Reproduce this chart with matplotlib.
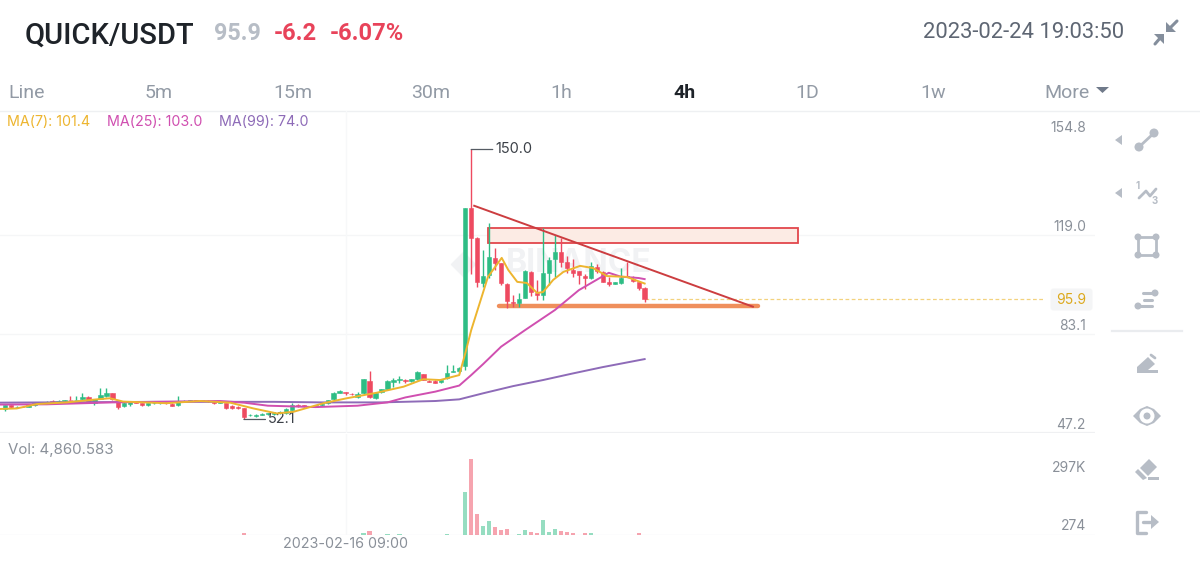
"""plot.py - QUICK/USDT 4h candlestick screen with MA lines and volume."""
import matplotlib; matplotlib.use("Agg")
import matplotlib.pyplot as plt
from matplotlib.patches import Circle, Polygon, Rectangle, FancyBboxPatch
import numpy as np

# candles, oldest first
opens = [55.8, 57.3, 56.5, 56.8, 56.8, 57.3, 57.9, 58.2, 58.8, 58.6,
         58.8, 59.2, 59.1, 59.4, 60.4, 58.2, 59.6, 60.6, 61.6, 58.7,
         57.0, 57.8, 58.6, 58.0, 57.3, 57.9, 58.0, 58.1, 57.7, 57.3,
         58.8, 58.9, 59.0, 58.9, 58.9, 58.6, 58.0, 58.0, 57.0, 56.6,
         56.1, 53.6, 53.5, 53.8, 54.1, 54.2, 54.4, 54.3, 55.7, 57.5,
         57.3, 56.9, 56.7, 57.3, 57.9, 59.4, 61.8, 62.0, 61.5, 60.4,
         61.6, 66.2, 59.8, 62.0, 63.0, 65.8, 66.4, 66.5, 66.0, 66.6,
         68.5, 66.1, 66.1, 65.7, 67.0, 69.3, 69.8, 71.5, 128.9, 117.9,
         101.6, 104.5, 110.7, 108.8, 101.2, 94.7, 94.3, 96.2, 105.6, 98.0,
         97.2, 105.2, 110.3, 112.8, 109.2, 106.3, 105.9, 104.1, 103.4, 107.4,
         105.6, 102.0, 101.2, 101.6, 104.1, 103.2, 102.0, 99.8]
highs = [57.4, 57.5, 57.0, 57.0, 57.5, 58.1, 58.5, 58.8, 59.2, 59.0,
         59.2, 60.6, 60.6, 61.6, 60.6, 59.4, 63.4, 63.4, 61.7, 59.1,
         58.3, 58.6, 58.8, 58.2, 58.2, 58.4, 58.4, 58.4, 58.0, 60.6,
         59.1, 59.2, 59.2, 59.2, 59.1, 58.8, 58.7, 58.2, 57.2, 57.0,
         56.3, 54.1, 54.0, 54.3, 54.5, 54.7, 55.0, 56.2, 58.2, 57.8,
         57.5, 57.1, 57.5, 57.9, 59.3, 62.0, 62.9, 62.1, 61.6, 62.2,
         66.9, 69.8, 62.0, 63.2, 66.4, 67.2, 67.9, 66.7, 66.8, 69.6,
         68.7, 66.4, 66.3, 66.6, 71.9, 71.9, 71.3, 128.9, 150.0, 118.2,
         113.6, 123.3, 114.3, 109.0, 101.5, 97.3, 98.0, 106.2, 105.9, 102.7,
         121.5, 111.1, 119.0, 117.9, 111.4, 110.3, 105.9, 104.9, 109.3, 108.5,
         105.9, 103.9, 102.1, 107.0, 109.3, 104.0, 102.2, 100.0]
lows = [55.0, 56.3, 56.3, 56.5, 56.6, 57.1, 57.6, 58.0, 58.4, 58.3,
        58.5, 59.0, 59.0, 59.1, 58.0, 57.2, 59.5, 60.3, 59.3, 55.8,
        56.8, 57.0, 57.9, 57.1, 56.9, 57.6, 57.7, 57.7, 57.0, 57.1,
        58.6, 58.7, 58.8, 58.8, 58.5, 57.7, 57.9, 55.8, 55.9, 56.0,
        52.1, 53.3, 52.9, 53.6, 53.9, 53.9, 54.1, 54.1, 55.5, 56.8,
        56.7, 56.5, 56.5, 57.1, 57.8, 59.2, 61.6, 60.9, 61.1, 59.8,
        61.2, 59.9, 59.4, 61.8, 62.8, 64.0, 65.2, 65.2, 65.8, 66.5,
        66.3, 65.6, 65.3, 65.5, 66.9, 69.2, 68.8, 70.0, 104.9, 100.1,
        100.1, 103.4, 106.3, 101.0, 92.5, 92.8, 92.8, 96.2, 96.9, 95.4,
        95.4, 100.9, 103.9, 107.5, 105.2, 103.9, 101.2, 99.4, 102.9, 105.2,
        102.0, 100.6, 101.1, 101.3, 103.6, 102.0, 99.0, 94.7]
closes = [57.3, 56.5, 56.8, 56.7, 57.3, 57.9, 58.3, 58.6, 58.6, 58.8,
          59.0, 59.1, 59.3, 60.1, 58.2, 59.4, 61.0, 61.8, 59.4, 56.7,
          58.0, 58.3, 58.0, 57.3, 58.0, 58.1, 58.2, 57.9, 57.1, 58.8,
          58.9, 59.0, 58.9, 59.0, 58.7, 57.9, 58.5, 56.2, 56.1, 56.1,
          52.9, 53.9, 53.8, 54.1, 54.4, 54.5, 54.9, 55.9, 57.3, 57.0,
          56.9, 56.7, 57.3, 57.7, 59.2, 61.8, 62.6, 61.6, 61.3, 61.5,
          66.7, 60.1, 61.6, 63.0, 66.0, 66.4, 66.7, 66.0, 66.6, 69.4,
          66.4, 65.8, 65.4, 66.4, 68.8, 69.6, 70.6, 128.9, 117.9, 102.0,
          104.1, 111.0, 108.8, 101.6, 95.1, 94.3, 95.8, 105.9, 98.3, 97.2,
          105.2, 109.9, 112.8, 109.2, 107.0, 105.2, 104.5, 103.4, 107.8, 105.9,
          102.0, 101.2, 101.9, 103.4, 103.8, 102.3, 99.8, 95.9]
# volume in thousands, same order as the candles
volumes = [0] * 40 + [8] + [0] * 19 + [10, 20, 0, 0, 5, 0, 5] + [0] * 7 + [5, 0, 0,
           216, 382, 103, 44, 68, 39, 22, 29, 0, 5, 25, 12, 7, 73, 12, 27, 19, 12, 8,
           0, 8, 7] + [0] * 7 + [7, 0]

ma7_x = [-1, 2, 5.4, 10.4, 15.4, 17.6, 19.8, 27, 32.7, 37.7, 41.6, 45.5, 48.3, 53.3, 57.2,
         62.2, 66.7, 70, 72.8, 76, 77, 78, 80.8, 83.1, 84.2, 85.7, 87.3, 89, 90, 91.7,
         93.4, 96.2, 98.4, 100.7, 104, 107]
ma7 = [55.9, 56.1, 57.7, 58.3, 59.4, 59.8, 58.6, 58.0, 58.8, 58.2, 56.1, 54.3, 54.9, 58.0, 59.8,
       61.8, 64.0, 66.7, 66.4, 68.2, 76.0, 84.5, 103.8, 110.7, 106.3, 102.0, 101.6, 98.0, 98.3, 102.7,
       105.6, 107.8, 107.0, 104.1, 103.8, 101.4]
ma25_x = [-1, 7, 18, 36, 40, 44, 52, 59, 64, 67, 72, 76, 78, 80, 83, 87, 92, 96, 101, 103, 106, 107]
ma25 = [57.5, 57.6, 58.3, 58.8, 58.2, 57.1, 56.6, 57.1, 58.3, 60.1, 62.2, 64.4, 68.2, 72.2, 78.5,
        84.5, 91.8, 99.0, 105.3, 103.9, 103.4, 103.0]
ma99_x = [-1, 25, 45, 53, 63, 72, 76, 80, 85, 90, 95, 100, 107]
ma99 = [58.2, 58.5, 58.5, 58.3, 58.3, 58.8, 59.4, 61.6, 64.2, 66.4, 68.8, 71.1, 74.0]

price_ticks = [154.8, 119.0, 83.1, 47.2]
last_price = 95.9
tabs = ["Line", "5m", "15m", "30m", "1h", "4h", "1D", "1w", "More"]
tab_x = [27, 159, 293, 431, 561, 684, 807, 933, 1067]

GREEN, RED = "#2ebd85", "#ee4a60"
YELLOW, PINK, PURPLE = "#edb52f", "#d04fb0", "#8e6bb8"
GREY, ICON = "#8a9099", "#b7bdc6"
plt.rcParams["font.family"] = ["Inter", "DejaVu Sans"]

W, H = 1200, 568
fig = plt.figure(figsize=(12, 5.68), dpi=100, facecolor="white")
# main price panel spans px x 0-1095, y 111-433
ax = fig.add_axes([0, 1 - 433 / H, 1095 / W, 322 / H])
ax.set_xlim(-0.786, 182.3); ax.set_ylim(47.2, 163.96)
vax = fig.add_axes([0, 1 - 534.5 / H, 1095 / W, 100.5 / H], sharex=ax)
vax.set_ylim(0, 509.5)
for a in (ax, vax):
    a.patch.set_alpha(0)
    for s in a.spines.values():
        s.set_visible(False)
    a.tick_params(left=False, bottom=False, labelleft=False, labelbottom=False)

idx = np.arange(len(opens))
o, h, l, c = map(np.array, (opens, highs, lows, closes))
colors = [GREEN if up else RED for up in c >= o]

# ── grid + watermark ──
for v in price_ticks[1:]:
    ax.axhline(v, color="#f5f6f7", lw=1, zorder=0)
ax.axhline(47.2, color="#eff0f2", lw=1.6, zorder=0)
vax.axhline(0, color="#f2f3f5", lw=1, zorder=0)
ax.axvline(57, color="#f7f8f9", lw=1, zorder=0); vax.axvline(57, color="#f7f8f9", lw=1, zorder=0)
ax.text(96, 108.5, "BINANCE", color="#f1f2f4", fontsize=23, fontweight="bold", ha="center", va="center", zorder=0)
ax.scatter([76.7], [108.5], marker="D", s=150, color="#f1f2f4", zorder=0)

# ── candles + volume ──
ax.vlines(idx, l, h, color=colors, lw=1, zorder=3)
ax.bar(idx, np.abs(c - o), bottom=np.minimum(o, c), width=0.72, color=colors, edgecolor=colors, lw=0.4, zorder=3)
vax.bar(idx, volumes, width=0.72, color=colors, alpha=0.5, zorder=2)

# ── MA lines ──
ax.plot(ma99_x, ma99, color=PURPLE, lw=1.4, zorder=4)
ax.plot(ma25_x, ma25, color=PINK, lw=1.4, zorder=5)
ax.plot(ma7_x, ma7, color=YELLOW, lw=1.4, zorder=6)

# ── drawn annotations ──
ax.add_patch(Rectangle((80.8, 116.1), 51.9, 5.4, facecolor="#fcebe4", edgecolor="#e2474c", lw=1.3, zorder=2))
ax.plot([82.7, 126], [93.2, 93.2], color="#ef8f5c", lw=3.2, solid_capstyle="round", zorder=2)
ax.plot([78.5, 125.1], [129.6, 93.0], color="#cc3d40", lw=1.4, zorder=7)
ax.plot([107, 174], [last_price, last_price], color="#f3d27e", lw=0.9, ls=(0, (3, 2)), zorder=1)

# high/low markers
ax.annotate("150.0", xy=(78, 150.0), xytext=(17.5, 0), textcoords="offset points", fontsize=10.5, color="#3c4148",
            va="center", arrowprops=dict(arrowstyle="-", color="#555b63", lw=0.9, shrinkA=0, shrinkB=0))
ax.annotate("52.1", xy=(40, 52.1), xytext=(17.5, 0), textcoords="offset points", fontsize=10.5, color="#3c4148",
            va="center", arrowprops=dict(arrowstyle="-", color="#555b63", lw=0.9, shrinkA=0, shrinkB=0))

# ── axis labels (sit just above their gridline, right aligned) ──
for v in price_ticks:
    ax.annotate(f"{v:.1f}", xy=(1, v), xycoords=("axes fraction", "data"), xytext=(-6.5, 5.8), textcoords="offset points",
                ha="right", va="center", fontsize=10, color=GREY)
vax.annotate("297K", xy=(1, 297), xycoords=("axes fraction", "data"), xytext=(-6.5, 5.8), textcoords="offset points",
             ha="right", va="center", fontsize=10, color=GREY)
vax.annotate("274", xy=(1, 0.274), xycoords=("axes fraction", "data"), xytext=(-6.5, 5.8), textcoords="offset points",
             ha="right", va="center", fontsize=10, color=GREY)
ax.annotate(f"{last_price}", xy=(1, last_price), xycoords=("axes fraction", "data"), xytext=(-6.5, -0.7),
            textcoords="offset points", ha="right", va="center", fontsize=10, color="#dca91c", zorder=9)
vax.annotate("2023-02-16 09:00", xy=(57, 0), xycoords="data", xytext=(0, -6.5), textcoords="offset points",
             ha="center", va="center", fontsize=10.3, color=GREY, annotation_clip=False)

# ── chrome, drawn on a pixel overlay ──
ov = fig.add_axes([0, 0, 1, 1], zorder=-1)
ov.set_xlim(0, W); ov.set_ylim(H, 0); ov.axis("off")
top = fig.add_axes([0, 0, 1, 1], zorder=10)
top.set_xlim(0, W); top.set_ylim(H, 0); top.axis("off"); top.patch.set_alpha(0)
ov.add_patch(FancyBboxPatch((1052, 290), 39, 19, boxstyle="round,pad=1.5,rounding_size=3", fc="#f4f5f6", ec="none"))
ov.plot([0, W], [110.5, 110.5], color="#eef0f2", lw=1)


def T(x, y, s, color, size, ha="left", **kw):
    top.text(x, y, s, color=color, fontsize=size, ha=ha, va="center", **kw)


T(25, 36, "QUICK/USDT", "#1e2329", 21, family="Roboto", fontweight="medium")
T(214, 34, "95.9", ICON, 16.8, family="Roboto", fontweight="bold")
T(274, 34, "-6.2", "#e8435a", 17, family="Roboto", fontweight="bold")
T(330, 34, "-6.07%", "#e8435a", 17, family="Roboto", fontweight="bold")
T(923, 33, "2023-02-24 19:03:50", "#5e6673", 15.8, family="Roboto")
for name, x in zip(tabs, tab_x):
    cur = name == "4h"
    T(x, 93, name, "#1e2329" if cur else "#929aa5", 14, ha="center", family="Roboto", fontweight="bold" if cur else "normal")
T(7, 122, "MA(7): 101.4", YELLOW, 10.3)
T(107, 122, "MA(25): 103.0", PINK, 10.3)
T(219, 122, "MA(99): 74.0", PURPLE, 10.3)
T(8, 450, "Vol: 4,860.583", GREY, 10.8)

poly = lambda pts, col=ICON: top.add_patch(Polygon(pts, closed=True, fc=col, ec="none"))
circ = lambda x, y, r, col=ICON: top.add_patch(Circle((x, y), r, fc=col, ec="none"))
seg = lambda xs, ys, lw=2, col=ICON: top.plot(xs, ys, color=col, lw=lw, solid_capstyle="round")

poly([(1096, 87), (1109, 87), (1102.5, 93)], "#707a8a")
# compress arrows
DK = "#848e9c"
poly([(1166, 22), (1166, 32), (1176, 32)], DK); seg([1169, 1177], [29, 21], 2.2, DK)
poly([(1154, 34), (1164, 34), (1164, 44)], DK); seg([1161, 1155], [37, 44], 2.2, DK)
# left-pointing carets
poly([(1115, 140), (1122, 135), (1122, 145)]); poly([(1115, 193), (1122, 188), (1122, 198)])
# line tool
circ(1139, 147, 4.5); circ(1154, 133, 4.5); seg([1139, 1154], [147, 133], 2)
# fib zigzag
seg([1139, 1146, 1150, 1156], [198, 191, 196, 189], 2)
T(1136, 186, "1", ICON, 7, fontweight="bold"); T(1152, 201, "3", ICON, 7, fontweight="bold")
# rectangle tool
seg([1138, 1156, 1156, 1138, 1138], [237, 237, 255, 255, 237], 2)
for cx, cy in [(1138, 237), (1156, 237), (1156, 255), (1138, 255)]:
    circ(cx, cy, 3.5)
# parallel bars
circ(1155, 293, 3.5); seg([1143, 1155], [293, 293], 2.2)
seg([1144, 1152], [299.5, 299.5], 2.2)
circ(1138, 306, 3.5); seg([1138, 1152], [306, 306], 2.2)
top.plot([1112, 1182], [331, 331], color="#eaecef", lw=1.6)
# pencil
poly([(1137, 373), (1137, 367), (1148, 357), (1155, 364), (1148, 370), (1158, 370), (1158, 373)])
seg([1151, 1155], [355, 358], 2)
# eye
poly([(1133, 416), (1140, 409), (1147, 406), (1154, 409), (1161, 416), (1154, 423), (1147, 426), (1140, 423)])
circ(1147, 416, 7.5, "white"); circ(1147, 416, 3.5)
# eraser
poly([(1149, 459), (1157, 467), (1148, 476), (1140, 468)])
poly([(1135, 472), (1138, 469), (1147, 478), (1143, 480)])
poly([(1148, 477), (1159, 477), (1159, 480), (1148, 480)])
# exit
seg([1146, 1137, 1137, 1146], [512, 512, 533, 533], 2.4)
seg([1143, 1152], [522, 522], 2.4); poly([(1151, 515), (1159, 522), (1151, 529)])

fig.savefig("out.png", dpi=100)
